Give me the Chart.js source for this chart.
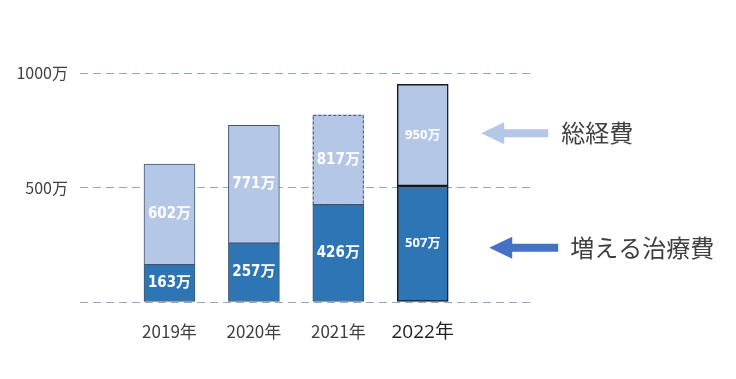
<!DOCTYPE html>
<html lang="ja">
<head>
<meta charset="utf-8">
<script src="https://cdn.jsdelivr.net/npm/chart.js@4"></script>
<style>
  body { margin: 0; background: #fff; }
  #wrap { width: 736px; height: 379px; }
</style>
</head>
<body>
<div id="wrap"><canvas id="chart" width="736" height="379"></canvas></div>
<script>
// data
const years = ['2019年', '2020年', '2021年', '2022年'];
const treatment = [163, 257, 426, 507];   // 増える治療費
const total = [602, 771, 817, 950];       // 総経費
const yTicks = [0, 500, 1000];
const legendNames = ['総経費', '増える治療費'];

const projected = 2; // 2021 total is drawn with a dashed outline
const lightBlue = '#b4c7e7';
const darkBlue = '#2e75b6';
const cjk = "'Noto Sans CJK JP', 'Noto Sans', sans-serif";

// top segment = total minus treatment
const rest = total.map((t, i) => t - treatment[i]);

// dashed outline for the projected year
const dashedBar = {
    id: 'dashedBar',
    afterDatasetsDraw(chart) {
        const bar = chart.getDatasetMeta(1).data[projected];
        const ctx = chart.ctx;
        const w = bar.width;
        ctx.save();
        ctx.strokeStyle = '#44546a';
        ctx.lineWidth = 1;
        ctx.setLineDash([3, 2]);
        ctx.strokeRect(bar.x - w / 2 + 0.5, bar.y + 0.5, w - 1, bar.base - bar.y);
        ctx.restore();
    }
};

// value labels inside bars
const valueLabels = {
    id: 'valueLabels',
    afterDatasetsDraw(chart) {
        const ctx = chart.ctx;
        ctx.save();
        ctx.fillStyle = '#fff';
        ctx.textAlign = 'center';
        ctx.textBaseline = 'middle';
        [treatment, total].forEach((vals, d) => {
            chart.getDatasetMeta(d).data.forEach((bar, i) => {
                ctx.font = i === years.length - 1
                    ? "bold 13px 'Open Sans', " + cjk
                    : "bold 15px 'Liberation Sans Narrow', 'DejaVu Sans Condensed', " + cjk;
                ctx.fillText(vals[i] + '万', bar.x, (bar.y + bar.base) / 2);
            });
        });
        ctx.restore();
    }
};

// arrows + names on the right, aligned with the last bar's segments
const sideLegend = {
    id: 'sideLegend',
    afterDraw(chart) {
        const ctx = chart.ctx;
        const items = [
            { bar: chart.getDatasetMeta(1).data[3], color: lightBlue, start: 33, len: 67, gap: 13, dy: -2, text: legendNames[0] },
            { bar: chart.getDatasetMeta(0).data[3], color: '#4472c4', start: 41, len: 69, gap: 12, dy: 4, text: legendNames[1] }
        ];
        items.forEach(it => {
            const y = (it.bar.y + it.bar.base) / 2 + it.dy;
            const x0 = it.bar.x + it.bar.width / 2 + it.start;
            const x1 = x0 + it.len;
            ctx.save();
            ctx.fillStyle = it.color;
            ctx.beginPath();
            ctx.moveTo(x0, y);
            ctx.lineTo(x0 + 23, y - 11);
            ctx.lineTo(x0 + 23, y - 4);
            ctx.lineTo(x1, y - 4);
            ctx.lineTo(x1, y + 4);
            ctx.lineTo(x0 + 23, y + 4);
            ctx.lineTo(x0 + 23, y + 11);
            ctx.closePath();
            ctx.fill();
            ctx.fillStyle = '#404040';
            ctx.font = '24px ' + cjk;
            ctx.textBaseline = 'middle';
            ctx.fillText(it.text, x1 + it.gap, y);
            ctx.restore();
        });
    }
};

const edge = (arr, last) => arr.map((c, i) => i === years.length - 1 ? last : c);

new Chart(document.getElementById('chart'), {
    type: 'bar',
    data: {
        datasets: [
            {
                label: legendNames[1],
                data: treatment.map((v, i) => ({ x: i, y: v })),
                backgroundColor: darkBlue,
                borderColor: edge(years.map(() => '#44546a'), '#1a1a1a'),
                borderWidth: edge(years.map(() => 1), 1.5),
                borderSkipped: false,
                barThickness: 51
            },
            {
                label: legendNames[0],
                data: rest.map((v, i) => ({ x: i, y: v })),
                backgroundColor: lightBlue,
                borderColor: edge(years.map(() => '#44546a'), '#1a1a1a'),
                borderWidth: edge(years.map((c, i) => i === projected ? 0 : 1), 1.5),
                borderSkipped: false,
                barThickness: 51
            }
        ]
    },
    options: {
        responsive: false,
        animation: false,
        layout: { padding: { top: 73, right: 201, bottom: 0, left: 0 } },
        plugins: {
            legend: { display: false },
            tooltip: { enabled: false }
        },
        scales: {
            x: {
                type: 'linear',
                stacked: true,
                offset: false,
                min: -1.06,
                max: 4.33,
                grid: { display: false, offset: false },
                border: { display: false },
                afterBuildTicks: s => { s.ticks = years.map((y, i) => ({ value: i })); },
                afterFit: s => { s.height = 77; },
                ticks: {
                    padding: 11,
                    maxRotation: 0,
                    autoSkip: false,
                    callback: v => years[v],
                    color: c => c.index === 3 ? '#222' : '#404040',
                    font: c => c.index === 3
                        ? { family: "'Open Sans', " + cjk, size: 19 }
                        : { family: cjk, size: 17 }
                }
            },
            y: {
                stacked: true,
                min: 0,
                max: 1000,
                afterBuildTicks: s => { s.ticks = yTicks.map(v => ({ value: v })); },
                afterFit: s => { s.width = 80; },
                border: { display: false, dash: [8, 5] },
                grid: {
                    color: '#8ea9c1',
                    lineWidth: 1,
                    drawTicks: false
                },
                ticks: {
                    padding: 12,
                    color: '#404040',
                    font: { family: cjk, size: 16 },
                    callback: v => v === 0 ? '' : v + '万'
                }
            }
        }
    },
    plugins: [dashedBar, valueLabels, sideLegend]
});
</script>
</body>
</html>
